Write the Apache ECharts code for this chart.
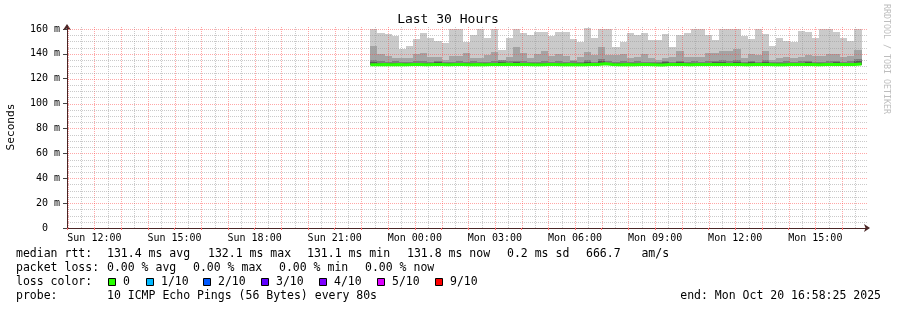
<!DOCTYPE html>
<html><head><meta charset="utf-8">
<script src="https://cdn.jsdelivr.net/npm/echarts@6/dist/echarts.min.js"></script>
<style>html,body{margin:0;padding:0;background:#fff}#c{width:897px;height:310px}</style>
</head><body><div id="c"></div>
<script>
// ---- time frame (hours counted from Sun 00:00) ----
const windowStart = 10 + 58 / 60 + 25 / 3600;   // Sun 10:58:25
const windowEnd = windowStart + 30;              // Mon 16:58:25
const firstSlot = 22 + 20 / 60;                  // first consolidated sample Sun 22:20
const slotHours = 16 / 60;                       // 16 minute consolidation
const yTop = 162.4;

// ---- tick labels ----
const xLabelHours = [12, 15, 18, 21, 24, 27, 30, 33, 36, 39];
const yLabelValues = [0, 20, 40, 60, 80, 100, 120, 140, 160];

// ---- smoke (ms): slowest ping, 9th, 8th, 7th, median, fastest ----
const rttMax = [160.3, 156.7, 156.0, 154.3, 143.8, 146.3, 152.0, 157.0, 153.0, 150.5, 149.0, 160.3, 160.3, 149.8, 155.0, 159.7, 152.6,
  160.2, 143.0, 152.4, 160.0, 156.5, 155.0, 157.8, 157.3, 154.3, 157.3, 157.3, 151.8, 149.8, 160.5, 153.0, 160.3, 159.7,
  145.8, 149.8, 156.5, 155.0, 156.5, 151.0, 151.0, 156.0, 145.8, 155.0, 156.5, 160.2, 160.0, 155.0, 151.2, 160.0, 160.0, 160.0,
  154.3, 152.0, 160.0, 156.0, 146.3, 152.4, 150.0, 149.8, 158.4, 157.5, 152.5, 160.0, 159.8, 157.4, 153.0, 150.0, 160.0];
const rttP9 = [146.3, 139.9, 138.3, 137.0, 136.4, 137.0, 139.6, 140.4, 137.7, 137.7, 135.3, 138.3, 138.3, 140.4, 137.0, 137.0, 139.0,
  141.7, 135.0, 137.7, 145.3, 140.4, 137.0, 140.0, 142.3, 138.3, 139.6, 138.6, 135.0, 137.7, 141.7, 139.0, 145.8, 139.0,
  139.0, 139.6, 136.4, 137.7, 139.6, 137.0, 135.0, 137.0, 137.7, 142.3, 137.7, 137.7, 137.7, 140.4, 140.4, 142.3, 142.5, 143.9,
  136.4, 139.6, 139.0, 142.3, 135.0, 136.8, 137.7, 136.4, 137.7, 139.0, 138.3, 138.3, 139.6, 140.0, 137.7, 138.3, 143.0];
const rttP8 = [135.4, 134.2, 133.7, 134.2, 133.7, 133.2, 134.2, 134.2, 133.7, 134.5, 133.2, 133.7, 134.2, 133.7, 134.2, 133.2, 133.7,
  134.0, 135.2, 133.9, 134.6, 134.2, 133.6, 133.4, 134.4, 133.8, 134.0, 133.5, 133.9, 133.2, 134.8, 133.6, 135.8, 134.2,
  133.6, 134.0, 133.4, 134.2, 133.8, 133.2, 133.6, 134.4, 133.8, 134.6, 133.4, 134.0, 133.8, 134.2, 134.6, 135.0, 134.2, 135.2,
  133.6, 134.4, 133.8, 134.8, 133.2, 133.6, 134.2, 133.8, 134.0, 134.6, 133.6, 133.8, 134.2, 134.4, 133.8, 134.0, 136.2];
const rttP7 = [133.6, 132.8, 132.6, 132.9, 132.5, 132.7, 132.8, 133.0, 132.6, 133.1, 132.4, 132.6, 132.9, 132.6, 132.8, 132.4, 132.7,
  133.0, 133.6, 132.8, 133.2, 132.9, 132.6, 132.5, 133.0, 132.7, 132.9, 132.5, 132.8, 132.4, 133.3, 132.6, 134.0, 132.9,
  132.6, 132.9, 132.5, 133.0, 132.7, 132.4, 132.6, 133.1, 132.7, 133.2, 132.5, 132.9, 132.7, 133.0, 133.2, 133.4, 133.0, 133.6,
  132.6, 133.1, 132.7, 133.3, 132.4, 132.6, 133.0, 132.7, 132.9, 133.2, 132.6, 132.7, 133.0, 133.1, 132.7, 132.9, 134.2];
const rttMedian = [131.3, 131.4, 131.3, 131.4, 131.3, 131.5, 131.4, 131.3, 131.4, 131.4, 131.3, 131.4, 131.4, 131.3, 131.4, 131.3, 131.4,
  131.5, 131.6, 131.4, 131.5, 131.4, 131.3, 131.3, 131.4, 131.4, 131.3, 131.4, 131.3, 131.3, 131.5, 131.4, 132.1, 131.4,
  131.3, 131.4, 131.3, 131.4, 131.4, 131.3, 131.1, 131.4, 131.4, 131.5, 131.3, 131.4, 131.4, 131.4, 131.5, 131.5, 131.4, 131.5,
  131.3, 131.4, 131.4, 131.5, 131.3, 131.3, 131.4, 131.4, 131.4, 131.5, 131.3, 131.4, 131.4, 131.5, 131.4, 131.5, 131.8];
const rttMin = [130.9, 131.0, 130.9, 131.0, 130.9, 131.0, 131.0, 130.9, 131.0, 131.0, 130.9, 131.0, 131.0, 130.9, 131.0, 130.9, 131.0,
  131.0, 131.1, 131.0, 131.0, 131.0, 130.9, 130.9, 131.0, 131.0, 130.9, 131.0, 130.9, 130.9, 131.0, 131.0, 131.1, 131.0,
  130.9, 131.0, 130.9, 131.0, 131.0, 130.9, 130.8, 131.0, 131.0, 131.0, 130.9, 131.0, 131.0, 131.0, 131.0, 131.1, 131.0, 131.0,
  130.9, 131.0, 131.0, 131.0, 130.9, 130.9, 131.0, 131.0, 131.0, 131.0, 130.9, 131.0, 131.0, 131.0, 131.0, 131.0, 131.2];

// ---- legend texts ----
const titleText = 'Last 30 Hours';
const rttLabel = 'median rtt:';
const rttSummary = ['131.4 ms avg', '132.1 ms max', '131.1 ms min', '131.8 ms now', '0.2 ms sd', '666.7   am/s'];
const lossLabel = 'packet loss:';
const lossSummary = ['0.00 % avg', '0.00 % max', '0.00 % min', '0.00 % now'];
const lossColorLabel = 'loss color:';
const lossNames = ['0', '1/10', '2/10', '3/10', '4/10', '5/10', '9/10'];
const lossColors = ['#26ff00', '#00b8ff', '#0059ff', '#5e00ff', '#7e00ff', '#dd00ff', '#ff0000'];
const probeLabel = 'probe:';
const probeText = '10 ICMP Echo Pings (56 Bytes) every 80s';
const endText = 'end: Mon Oct 20 16:58:25 2025';
const creditText = 'RRDTOOL / TOBI OETIKER';
const yName = 'Seconds';

// ---- layout (pixels) ----
const mono = "'DejaVu Sans Mono', monospace";
const rttX = [107, 208, 307, 407, 507, 586];
const lossX = [107, 193, 279, 365];
const boxX = [108, 146, 203, 261, 319, 377, 435];
const lossNameX = [123, 161, 218, 276, 334, 392, 450];
const lineY = [254, 268, 282, 296];
const legendSize = 11.5;

const majorGrid = 'rgba(255,60,60,0.45)';
const minorGrid = 'rgba(150,150,150,0.5)';

const slotStarts = rttMax.map((_, i) => firstSlot + i * slotHours);
const smokeData = slotStarts.map((t, i) => [t, rttMin[i], rttP7[i], rttP8[i], rttP9[i], rttMax[i]]);
const medianData = slotStarts.map((t, i) => [t, rttMedian[i]]);
medianData.push([slotStarts[slotStarts.length - 1] + slotHours, rttMedian[rttMedian.length - 1]]);

const vGridData = [];
for (let h = 11; h < windowEnd; h += 0.5) vGridData.push([h, 0]);
const hGridData = [];
for (let v = 5; v <= 160; v += 5) hGridData.push([windowStart, v]);
const tickHours = [];
for (let h = 11; h < windowEnd; h += 1) tickHours.push(h);

function txt(x, y, text, opts) {
  return Object.assign({
    type: 'text', x: x, y: y, silent: true,
    style: Object.assign({ text: text, fontFamily: mono, fontSize: legendSize, fill: '#000',
      align: 'left', textAlign: 'left', verticalAlign: 'middle', textVerticalAlign: 'middle' }, (opts && opts.style) || {})
  }, (opts && opts.el) || {});
}

const graphic = [];
graphic.push(txt(448, 20, titleText, { style: { fontSize: 13, align: 'center', textAlign: 'center' } }));
graphic.push(txt(11, 127, yName, { style: { fontSize: 11.2, align: 'center', textAlign: 'center' }, el: { rotation: Math.PI / 2 } }));
graphic.push(txt(886, 4, creditText, { style: { fontSize: 8.3, fill: '#bdbdbd' }, el: { rotation: -Math.PI / 2 } }));
graphic.push(txt(16, lineY[0], rttLabel));
rttSummary.forEach((s, i) => graphic.push(txt(rttX[i], lineY[0], s)));
graphic.push(txt(16, lineY[1], lossLabel));
lossSummary.forEach((s, i) => graphic.push(txt(lossX[i], lineY[1], s)));
graphic.push(txt(16, lineY[2], lossColorLabel));
lossNames.forEach((s, i) => {
  graphic.push({ type: 'rect', silent: true, shape: { x: boxX[i] + 0.5, y: lineY[2] - 3.5, width: 7, height: 7 },
    style: { fill: lossColors[i], stroke: '#000', lineWidth: 1 } });
  graphic.push(txt(lossNameX[i], lineY[2], s));
});
graphic.push(txt(16, lineY[3], probeLabel));
graphic.push(txt(107, lineY[3], probeText));
graphic.push(txt(881, lineY[3], endText, { style: { align: 'right', textAlign: 'right' } }));

const chart = echarts.init(document.getElementById('c'), null, { renderer: 'canvas' });
chart.setOption({
  animation: false,
  backgroundColor: '#ffffff',
  grid: { left: 67, right: 29, top: 26, bottom: 82, containLabel: false },
  xAxis: {
    type: 'value', min: windowStart, max: windowEnd,
    axisLine: { show: true, onZero: false, lineStyle: { color: '#4a2626', width: 1 },
      symbol: ['none', 'arrow'], symbolSize: [6, 6], symbolOffset: [0, 2] },
    axisTick: { show: true, customValues: tickHours, length: 2, lineStyle: { color: '#ff7070' } },
    axisLabel: { customValues: xLabelHours, fontFamily: mono, fontSize: 10, color: '#000', margin: 5,
      formatter: v => (v < 24 ? 'Sun ' : 'Mon ') + String(Math.round(v) % 24).padStart(2, '0') + ':00' },
    splitLine: { show: false }
  },
  yAxis: {
    type: 'value', min: 0, max: yTop,
    axisLine: { show: true, onZero: false, lineStyle: { color: '#4a2626', width: 1 },
      symbol: ['none', 'arrow'], symbolSize: [6, 6], symbolOffset: [0, 2] },
    axisTick: { show: true, customValues: yLabelValues, length: 4, lineStyle: { color: '#444' } },
    axisLabel: { customValues: yLabelValues, fontFamily: mono, fontSize: 10, color: '#000', margin: 7,
      formatter: v => (v === 0 ? '0  ' : v + ' m') },
    splitLine: { show: false }
  },
  series: [
    {
      type: 'custom', name: 'smoke', z: 2, data: smokeData,
      encode: { x: 0, y: [1, 2, 3, 4, 5] },
      renderItem: (params, api) => {
        const t0 = api.value(0);
        const xa = Math.round(api.coord([t0, 0])[0]);
        const xb = Math.round(api.coord([t0 + slotHours, 0])[0]);
        const yb = Math.round(api.coord([t0, api.value(1)])[1]);
        const levels = [[api.value(5), '#cacaca'], [api.value(4), '#a4a4a4'], [api.value(3), '#7e7e7e'], [api.value(2), '#585858']];
        return { type: 'group', children: levels.map(l => {
          const yt = Math.round(api.coord([t0, l[0]])[1]);
          return { type: 'rect', shape: { x: xa, y: yt, width: xb - xa, height: yb - yt }, style: { fill: l[1] } };
        }) };
      }
    },
    {
      type: 'custom', name: 'vgrid', z: 3, silent: true, data: vGridData,
      renderItem: (params, api) => {
        const h = api.value(0);
        const p0 = api.coord([h, 0]), p1 = api.coord([h, yTop]);
        const x = Math.round(p0[0]) + 0.5;
        const major = Math.abs(h - Math.round(h)) < 1e-6;
        return { type: 'line', shape: { x1: x, y1: Math.round(p0[1]), x2: x, y2: Math.round(p1[1]) },
          style: { stroke: major ? majorGrid : minorGrid, lineWidth: 1, lineDash: [1, 1] } };
      }
    },
    {
      type: 'custom', name: 'hgrid', z: 3, silent: true, data: hGridData,
      renderItem: (params, api) => {
        const v = api.value(1);
        const p0 = api.coord([windowStart, v]), p1 = api.coord([windowEnd, v]);
        const y = Math.round(p0[1]) + 0.5;
        const major = v % 20 === 0;
        return { type: 'line', shape: { x1: Math.round(p0[0]) + 1, y1: y, x2: Math.round(p1[0]), y2: y },
          style: { stroke: major ? majorGrid : minorGrid, lineWidth: 1, lineDash: [1, 1] } };
      }
    },
    {
      type: 'line', name: 'median', z: 4, data: medianData, step: 'end', symbol: 'none',
      lineStyle: { color: '#26ff00', width: 3 }, silent: true
    }
  ],
  graphic: graphic
});
</script></body></html>
